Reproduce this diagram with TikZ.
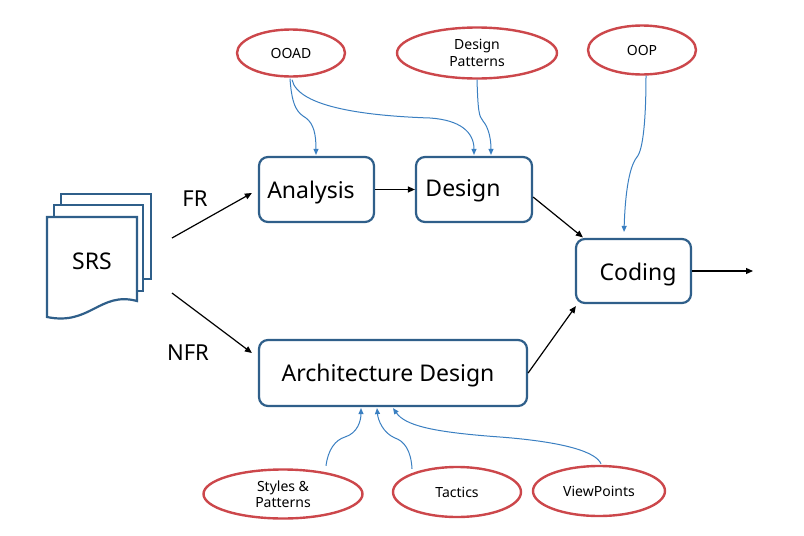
\documentclass[tikz,border=0pt]{standalone}
\usepackage{fontspec}
\setmainfont{Noto Sans}
\usetikzlibrary{arrows.meta,calc,shapes.geometric}
\definecolor{boxc}{HTML}{2F5F8A}
\definecolor{ellc}{HTML}{CC474B}
\definecolor{bluec}{HTML}{3A7FC1}
\begin{document}
\begin{tikzpicture}[x=1pt,y=-1pt,
  procbox/.style={draw=boxc,line width=2.2pt,rounded corners=9pt,fill=white,inner sep=0pt},
  oval/.style={draw=ellc,line width=2.4pt,ellipse,inner sep=0pt,fill=white},
  bigtext/.style={font=\fontsize{23}{27}\selectfont},
  smalltext/.style={font=\fontsize{14}{16.5}\selectfont,align=center},
  blk/.style={-{Triangle[length=7pt,width=6pt]},line width=1.2pt,black},
  blu/.style={-{Triangle[length=6pt,width=5pt]},line width=1pt,bluec},
  page/.style={draw=boxc,line width=2.2pt,fill=white,line join=miter}]
\useasboundingbox (0,0) rectangle (804,536);
% SRS pages
\draw[page] (61,194) rectangle (151,279);
\draw[page] (54,205) rectangle (143,291);
\draw[page] (47,317) -- (47,217) -- (137,217) -- (137,301)
  .. controls (100,291) and (90,326) .. (47,317) -- cycle;
\node[bigtext] (srs) at (92,261) {SRS};
% boxes
\node[procbox,minimum width=115pt,minimum height=65pt] (analysis) at (316.5,189.5) {};
\node[bigtext] (analysist) at (311,192.5) {Analysis};
\node[procbox,minimum width=116pt,minimum height=65pt] (design) at (474,189.5) {};
\node[bigtext] (designt) at (463,190.5) {Design};
\node[procbox,minimum width=115pt,minimum height=64pt] (coding) at (633.5,271) {};
\node[bigtext] (codingt) at (638,274.5) {Coding};
\node[procbox,minimum width=268pt,minimum height=66pt] (arch) at (393,373) {};
\node[bigtext] (archt) at (388,376) {Architecture Design};
% labels
\node[font=\fontsize{22}{26}\selectfont] (fr) at (195,199) {FR};
\node[font=\fontsize{22}{26}\selectfont] (nfr) at (188,353) {NFR};
% ellipses
\node[oval,minimum width=108pt,minimum height=47pt,smalltext] (ooad) at (291,53) {OOAD};
\node[oval,minimum width=160pt,minimum height=51pt,smalltext] (dp) at (477,53) {Design\\Patterns};
\node[oval,minimum width=108pt,minimum height=49pt,smalltext] (oop) at (642,50) {OOP};
\node[oval,minimum width=159pt,minimum height=49pt,smalltext] (sp) at (283,494) {Styles \&\\Patterns};
\node[oval,minimum width=128pt,minimum height=50pt,smalltext] (tac) at (457,492) {Tactics};
\node[oval,minimum width=132pt,minimum height=50pt,smalltext] (vp) at (599,491) {ViewPoints};
% black arrows
\coordinate (frs) at (172,238);
\coordinate (nfrs) at (172,293);
\coordinate (outc) at (753,271);
\draw[blk] (frs) -- ($(analysis.west)+(-6,3.5)$);
\draw[blk] (nfrs) -- ($(arch.west)+(-6,-20)$);
\draw[blk] (analysis.east) -- (design.west);
\draw[blk] ($(design.east)+(0,7.5)$) -- ($(coding.north west)+(8,-0.5)$);
\draw[blk] ($(arch.east)+(0,0)$) -- ($(coding.south west)+(1,2)$);
\draw[blk] (coding.east) -- (outc);
% blue arrows
\draw[blu] ($(ooad.south)+(-1,1)$) .. controls (292,108) and (298,113) .. (306,118)
  .. controls (314,124) and (316,135) .. ($(analysis.north)+(-0.5,-1)$);
\draw[blu] ($(ooad.south)+(1,2)$) .. controls (298,108) and (370,116) .. (430,118)
  .. controls (460,120) and (474,132) .. ($(design.north)+(0,-1)$);
\draw[blu] ($(dp.south)+(0,0)$) .. controls (478,112) and (479,116) .. (483,121)
  .. controls (489,128) and (491,140) .. ($(design.north)+(17,-1)$);
\draw[blu] ($(oop.south)+(4,0)$) .. controls (646,120) and (643,150) .. (637,157)
  .. controls (628,168) and (625,200) .. ($(coding.north)+(-9.5,-6)$);
\draw[blu] ($(sp.north)+(43,-2.5)$) .. controls (328,450) and (335,440) .. (345,437)
  .. controls (358,433) and (361,420) .. ($(arch.south)+(-32,1)$);
\draw[blu] ($(tac.north)+(-45,3)$) .. controls (411,450) and (404,441) .. (395,438)
  .. controls (383,433) and (378,420) .. ($(arch.south)+(-16,1)$);
\draw[blu] ($(vp.north)+(2,-1)$) .. controls (596,452) and (565,442) .. (500,437)
  .. controls (430,432) and (405,425) .. ($(arch.south)+(0,1)$);
\end{tikzpicture}
\end{document}
